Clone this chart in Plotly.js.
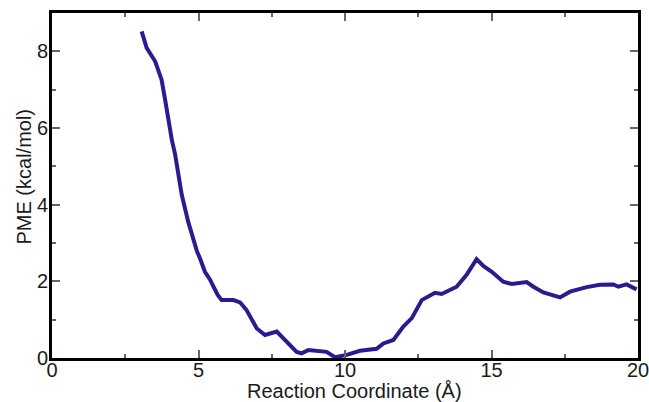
<!DOCTYPE html>
<html>
<head>
<meta charset="utf-8">
<script src="https://cdn.plot.ly/plotly-3.0.1.min.js"></script>
<style>html,body{margin:0;padding:0;background:#fff;}#chart{width:649px;height:402px;}</style>
</head>
<body>
<div id="chart"></div>
<script>
const reactionCoord = [3.06, 3.23, 3.52, 3.74, 3.86, 3.97, 4.09, 4.20, 4.31, 4.43, 4.65, 4.82, 4.94, 5.05, 5.22, 5.39, 5.51, 5.65, 5.79, 6.19, 6.42, 6.64, 6.99, 7.27, 7.67, 8.01, 8.35, 8.52, 8.75, 9.37, 9.66, 10.06, 10.51, 11.08, 11.31, 11.65, 11.99, 12.28, 12.62, 13.07, 13.30, 13.81, 14.15, 14.49, 14.72, 15.01, 15.40, 15.69, 16.20, 16.43, 16.77, 17.34, 17.68, 18.25, 18.70, 19.16, 19.33, 19.61, 19.95];
const pme = [8.52, 8.09, 7.74, 7.26, 6.74, 6.21, 5.69, 5.32, 4.85, 4.25, 3.55, 3.08, 2.80, 2.60, 2.25, 2.05, 1.86, 1.65, 1.51, 1.51, 1.45, 1.25, 0.77, 0.60, 0.69, 0.43, 0.16, 0.12, 0.21, 0.16, 0.02, 0.08, 0.19, 0.24, 0.38, 0.47, 0.82, 1.04, 1.51, 1.70, 1.67, 1.86, 2.17, 2.58, 2.40, 2.25, 1.99, 1.93, 1.98, 1.86, 1.71, 1.58, 1.73, 1.85, 1.91, 1.92, 1.86, 1.92, 1.79];
const xTicks = [0, 5, 10, 15, 20];
const xMinor = [2.5, 7.5, 12.5, 17.5];
const yTicks = [0, 2, 4, 6, 8];
const yMinor = [1, 3, 5, 7];
const xTitle = 'Reaction Coordinate (Å)';
const yTitle = 'PME (kcal/mol)';

const fam = 'Liberation Sans, Arial, sans-serif';
const tickFont = {family: fam, size: 20, color: '#1a1a1a'};
const titleFont = {family: fam, size: 20, color: '#1a1a1a'};
const axisCommon = {
  showline: true, linecolor: '#000', linewidth: 3, mirror: 'allticks',
  ticks: 'inside', ticklen: 8, tickwidth: 2, tickcolor: '#666',
  showgrid: false, zeroline: false, tickfont: tickFont, ticklabeloverflow: 'allow'
};
const layout = {
  width: 649, height: 402,
  margin: {l: 52, r: 11, t: 13, b: 44},
  paper_bgcolor: '#fff', plot_bgcolor: '#fff',
  showlegend: false,
  xaxis: Object.assign({}, axisCommon, {
    range: [0, 20], tickvals: xTicks, ticktext: xTicks.map(String), ticklabelstandoff: -8,
    minor: {tickvals: xMinor, ticks: 'inside', ticklen: 4, tickwidth: 2, tickcolor: '#666'}
  }),
  yaxis: Object.assign({}, axisCommon, {
    range: [0, 9], tickvals: yTicks, ticktext: yTicks.map(String), ticklabelstandoff: -3,
    minor: {tickvals: yMinor, ticks: 'inside', ticklen: 4, tickwidth: 2, tickcolor: '#666'}
  }),
  annotations: [
    {text: xTitle, xref: 'paper', yref: 'paper', x: 0.517, y: -0.095, xanchor: 'center', yanchor: 'middle', showarrow: false, font: titleFont},
    {text: yTitle, xref: 'paper', yref: 'paper', x: -0.0486, y: 0.5246, xanchor: 'center', yanchor: 'middle', textangle: -90, showarrow: false, font: titleFont}
  ]
};
const trace = {
  x: reactionCoord, y: pme, type: 'scatter', mode: 'lines',
  line: {color: '#2a1c8c', width: 4, shape: 'linear'},
  cliponaxis: true
};
Plotly.newPlot('chart', [trace], layout, {displayModeBar: false, staticPlot: true});
</script>
</body>
</html>
